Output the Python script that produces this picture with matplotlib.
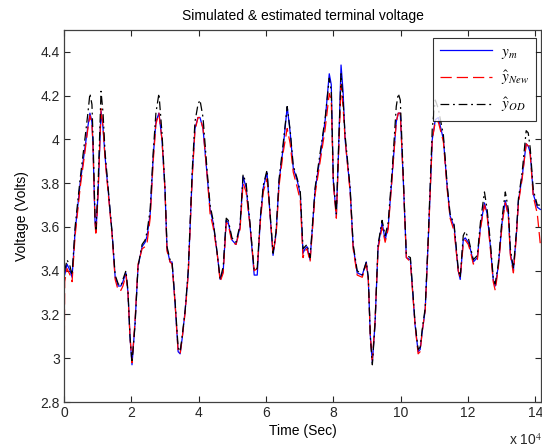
import matplotlib
matplotlib.use("Agg")
import matplotlib.pyplot as plt
from matplotlib.ticker import FuncFormatter

# time in units of 1e4 s
t = [0.00, 0.02, 0.09, 0.18, 0.24, 0.33, 0.48, 0.62, 0.71, 0.77, 0.83, 0.86, 0.92, 0.95, 1.01,
     1.10, 1.16, 1.22, 1.31, 1.43, 1.52, 1.61, 1.69, 1.75, 1.84, 1.90, 1.96, 2.02, 2.11, 2.20,
     2.32, 2.41, 2.47, 2.56, 2.65, 2.73, 2.82, 2.91, 3.00, 3.06, 3.15, 3.21, 3.30, 3.39, 3.45,
     3.51, 3.60, 3.69, 3.81, 3.89, 3.98, 4.04, 4.13, 4.25, 4.34, 4.43, 4.55, 4.64, 4.73, 4.82,
     4.88, 4.99, 5.11, 5.23, 5.32, 5.41, 5.53, 5.65, 5.74, 5.83, 5.92, 6.03, 6.09, 6.21, 6.30,
     6.39, 6.51, 6.63, 6.72, 6.81, 6.93, 7.02, 7.10, 7.16, 7.22, 7.31, 7.46, 7.61, 7.76, 7.88,
     7.94, 8.00, 8.09, 8.15, 8.23, 8.29, 8.35, 8.50, 8.59, 8.71, 8.86, 8.98, 9.04, 9.10, 9.16,
     9.24, 9.33, 9.45, 9.54, 9.63, 9.75, 9.87, 9.93, 9.99, 10.08, 10.17, 10.29, 10.43, 10.52, 10.58,
     10.64, 10.73, 10.82, 10.94, 11.03, 11.12, 11.27, 11.39, 11.47, 11.59, 11.71, 11.77, 11.86, 11.92, 12.01,
     12.07, 12.16, 12.28, 12.37, 12.49, 12.57, 12.66, 12.75, 12.81, 12.90, 13.02, 13.11, 13.20, 13.26, 13.35,
     13.44, 13.50, 13.61, 13.73, 13.79, 13.85, 13.94, 14.06, 14.15]

y_m = [3.40, 3.38, 3.43, 3.40, 3.37, 3.58, 3.80, 3.96, 4.06, 4.12, 4.08, 3.98, 3.63, 3.58, 3.75,
       4.13, 4.05, 3.92, 3.77, 3.57, 3.37, 3.33, 3.33, 3.35, 3.39, 3.30, 3.10, 2.97, 3.16, 3.42,
       3.51, 3.53, 3.56, 3.66, 3.92, 4.08, 4.12, 4.00, 3.77, 3.50, 3.44, 3.44, 3.25, 3.03, 3.02,
       3.09, 3.22, 3.39, 3.84, 4.05, 4.10, 4.10, 4.05, 3.84, 3.68, 3.62, 3.48, 3.36, 3.40, 3.63,
       3.62, 3.54, 3.52, 3.60, 3.83, 3.78, 3.60, 3.38, 3.38, 3.63, 3.78, 3.85, 3.72, 3.47, 3.57,
       3.81, 3.96, 4.15, 4.03, 3.87, 3.81, 3.75, 3.48, 3.50, 3.51, 3.45, 3.77, 3.92, 4.09, 4.30,
       4.25, 3.81, 3.65, 3.92, 4.34, 4.22, 4.00, 3.77, 3.51, 3.39, 3.38, 3.44, 3.36, 3.10, 2.98,
       3.16, 3.51, 3.62, 3.54, 3.60, 3.84, 4.08, 4.12, 4.12, 3.81, 3.46, 3.45, 3.15, 3.03, 3.04,
       3.12, 3.22, 3.54, 4.00, 4.09, 4.10, 4.00, 3.77, 3.65, 3.60, 3.40, 3.36, 3.54, 3.55, 3.53,
       3.50, 3.44, 3.46, 3.60, 3.71, 3.66, 3.52, 3.36, 3.33, 3.42, 3.63, 3.72, 3.66, 3.48, 3.40,
       3.57, 3.72, 3.83, 3.98, 3.97, 3.94, 3.75, 3.69, 3.68]

y_new = [2.80, 3.35, 3.41, 3.38, 3.35, 3.56, 3.78, 3.94, 4.05, 4.11, 4.07, 3.98, 3.62, 3.56, 3.74,
         4.14, 4.06, 3.91, 3.76, 3.56, 3.36, 3.31, 3.31, 3.33, 3.38, 3.30, 3.10, 2.98, 3.17, 3.43,
         3.50, 3.51, 3.53, 3.64, 3.90, 4.07, 4.12, 4.00, 3.77, 3.49, 3.44, 3.43, 3.25, 3.03, 3.02,
         3.09, 3.21, 3.38, 3.83, 4.04, 4.10, 4.10, 4.05, 3.84, 3.66, 3.60, 3.48, 3.35, 3.39, 3.62,
         3.61, 3.53, 3.52, 3.59, 3.80, 3.76, 3.60, 3.40, 3.41, 3.62, 3.76, 3.82, 3.72, 3.48, 3.56,
         3.79, 3.94, 4.05, 3.98, 3.85, 3.78, 3.72, 3.46, 3.49, 3.50, 3.44, 3.75, 3.90, 4.05, 4.21,
         4.18, 3.80, 3.64, 3.90, 4.25, 4.15, 4.00, 3.76, 3.50, 3.38, 3.37, 3.43, 3.36, 3.10, 2.99,
         3.17, 3.50, 3.60, 3.53, 3.59, 3.83, 4.08, 4.12, 4.12, 3.81, 3.46, 3.44, 3.15, 3.02, 3.03,
         3.12, 3.22, 3.53, 4.00, 4.08, 4.08, 3.99, 3.76, 3.64, 3.58, 3.40, 3.37, 3.52, 3.54, 3.52,
         3.49, 3.43, 3.45, 3.59, 3.70, 3.65, 3.51, 3.35, 3.31, 3.41, 3.62, 3.71, 3.65, 3.47, 3.39,
         3.56, 3.71, 3.82, 3.98, 3.97, 3.93, 3.74, 3.66, 3.52]

y_od = [3.40, 3.40, 3.45, 3.42, 3.38, 3.60, 3.82, 4.00, 4.12, 4.21, 4.16, 4.02, 3.65, 3.59, 3.78,
        4.22, 4.12, 3.94, 3.78, 3.57, 3.38, 3.34, 3.33, 3.36, 3.40, 3.31, 3.10, 2.98, 3.15, 3.42,
        3.52, 3.54, 3.58, 3.68, 3.94, 4.12, 4.21, 4.03, 3.78, 3.51, 3.45, 3.44, 3.26, 3.05, 3.03,
        3.10, 3.22, 3.40, 3.86, 4.08, 4.16, 4.18, 4.10, 3.86, 3.70, 3.63, 3.48, 3.36, 3.42, 3.64,
        3.63, 3.55, 3.53, 3.61, 3.84, 3.80, 3.61, 3.40, 3.41, 3.64, 3.79, 3.86, 3.73, 3.48, 3.58,
        3.82, 3.98, 4.15, 4.04, 3.88, 3.82, 3.76, 3.50, 3.51, 3.52, 3.46, 3.78, 3.94, 4.10, 4.28,
        4.22, 3.82, 3.66, 3.93, 4.30, 4.18, 4.02, 3.78, 3.52, 3.40, 3.38, 3.44, 3.37, 3.10, 2.97,
        3.16, 3.52, 3.63, 3.56, 3.62, 3.86, 4.15, 4.21, 4.18, 3.82, 3.47, 3.46, 3.16, 3.04, 3.05,
        3.13, 3.23, 3.55, 4.05, 4.18, 4.14, 4.02, 3.78, 3.66, 3.61, 3.41, 3.37, 3.56, 3.58, 3.55,
        3.51, 3.45, 3.47, 3.62, 3.76, 3.68, 3.54, 3.37, 3.34, 3.43, 3.65, 3.76, 3.68, 3.50, 3.41,
        3.58, 3.73, 3.85, 4.04, 4.03, 3.96, 3.77, 3.70, 3.70]

plt.rcParams['font.family'] = ['Liberation Sans', 'DejaVu Sans']
plt.rcParams['mathtext.fontset'] = 'stix'

fig = plt.figure(figsize=(5.42, 4.48), dpi=100)
ax = fig.add_axes([64 / 542, 46 / 448, 477 / 542, 372 / 448])

ax.plot(t, y_m, color='#0000ff', lw=0.9, label=r'$y_m$')
ax.plot(t, y_new, color='#ff0000', lw=0.9, dashes=(9, 4), label=r'$\hat{y}_{New}$')
ax.plot(t, y_od, color='black', lw=0.9, dashes=(7, 3, 1.5, 3), label=r'$\hat{y}_{OD}$')

ax.set_xlim(0, 14.17)
ax.set_ylim(2.8, 4.5)
ax.set_xticks([0, 2, 4, 6, 8, 10, 12, 14])
ax.set_yticks([2.8, 3.0, 3.2, 3.4, 3.6, 3.8, 4.0, 4.2, 4.4])
ax.yaxis.set_major_formatter(FuncFormatter(lambda v, p: '%g' % round(v, 2)))
ax.tick_params(direction='in', top=True, right=True, length=4, width=0.8,
               labelsize=10, colors='#262626', pad=3)
for s in ax.spines.values():
    s.set_color('#404040')
    s.set_linewidth(0.9)

ax.set_title('Simulated & estimated terminal voltage', fontsize=10, pad=7)
ax.set_xlabel('Time (Sec)', fontsize=10, labelpad=3)
ax.set_ylabel('Voltage (Volts)', fontsize=10, labelpad=8)

leg = ax.legend(loc='upper right', bbox_to_anchor=(0.99, 0.979), fontsize=11,
                frameon=True, fancybox=False, handlelength=3.4, labelspacing=0.55,
                borderpad=0.45, handletextpad=0.6, borderaxespad=0)
leg.get_frame().set_edgecolor('black')
leg.get_frame().set_linewidth(0.8)

fig.text(509 / 542, 1 - 445 / 448, r'x 10$^{4}$', fontsize=10, color='#262626',
         ha='left', va='baseline')

fig.savefig('out.png', dpi=100)
